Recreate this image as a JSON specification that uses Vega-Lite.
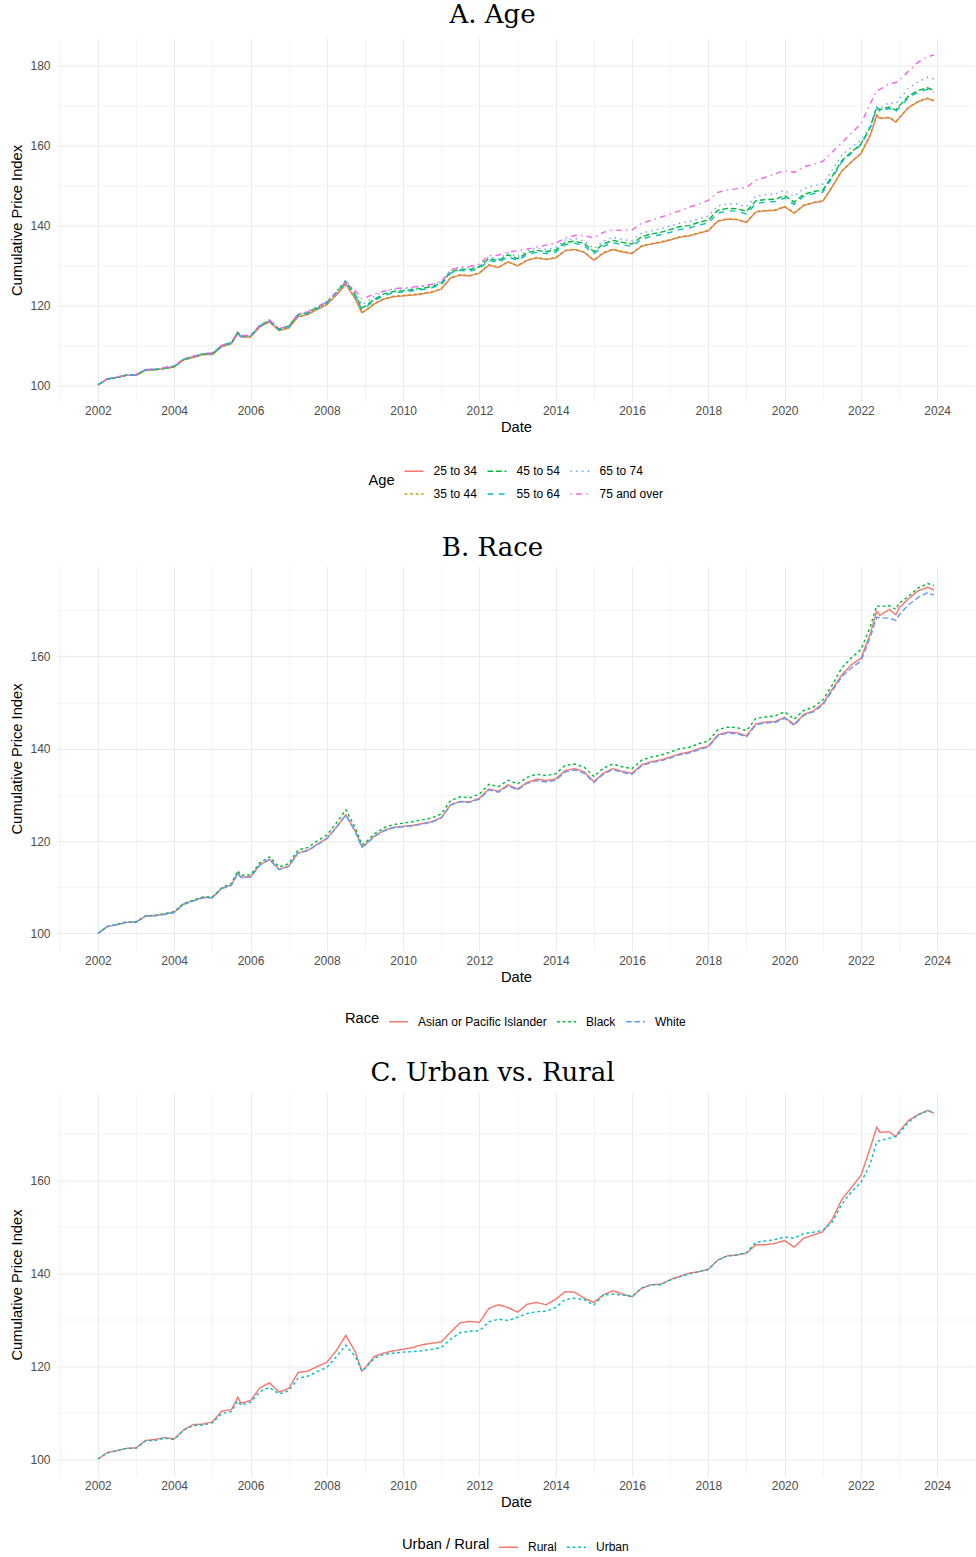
{
"$schema": "https://vega.github.io/schema/vega-lite/v6.json",
"padding": {"left": 9, "top": 1.5, "right": 0, "bottom": 0},
"spacing": 31.5,
"config": {
  "view": {"stroke": null},
  "font": "Liberation Sans",
  "axis": {"domain": false, "ticks": false, "tickSize": 0, "labelColor": "#4D4D4D", "labelFontSize": 12, "labelFont": "Liberation Sans", "titleFont": "Liberation Sans", "titleFontSize": 14.7, "titleFontWeight": "normal", "titleColor": "#000000", "gridColor": "#EBEBEB"},
  "legend": {"labelFont": "Liberation Sans", "labelFontSize": 12, "labelColor": "#000000", "titleFont": "Liberation Sans", "titleFontSize": 14.7, "titleFontWeight": "normal", "titleColor": "#000000", "symbolType": "stroke", "symbolSize": 361, "symbolStrokeWidth": 1.42, "labelOffset": 9, "columnPadding": 7, "rowPadding": 6, "titlePadding": 8, "titleOrient": "left", "titleAnchor": "middle", "titleBaseline": "middle", "direction": "horizontal", "orient": "none"},
  "title": {"font": "DejaVu Serif", "fontSize": 26, "fontWeight": "normal", "color": "#000000", "anchor": "middle", "frame": "bounds", "baseline": "alphabetic"}
},
"datasets": {
"age": [
{"t":"2002-01","g":"25 to 34","v":100.0},{"t":"2002-04","g":"25 to 34","v":101.5},{"t":"2002-07","g":"25 to 34","v":101.9},{"t":"2002-10","g":"25 to 34","v":102.4},{"t":"2003-01","g":"25 to 34","v":102.4},{"t":"2003-04","g":"25 to 34","v":103.7},{"t":"2003-07","g":"25 to 34","v":103.8},{"t":"2003-10","g":"25 to 34","v":104.1},{"t":"2004-01","g":"25 to 34","v":104.5},{"t":"2004-04","g":"25 to 34","v":106.3},{"t":"2004-07","g":"25 to 34","v":106.9},{"t":"2004-10","g":"25 to 34","v":107.6},{"t":"2005-01","g":"25 to 34","v":107.6},{"t":"2005-04","g":"25 to 34","v":109.6},{"t":"2005-07","g":"25 to 34","v":110.3},{"t":"2005-09","g":"25 to 34","v":112.9},{"t":"2005-10","g":"25 to 34","v":112.0},{"t":"2006-01","g":"25 to 34","v":112.0},{"t":"2006-04","g":"25 to 34","v":114.6},{"t":"2006-07","g":"25 to 34","v":115.8},{"t":"2006-10","g":"25 to 34","v":113.6},{"t":"2007-01","g":"25 to 34","v":114.2},{"t":"2007-04","g":"25 to 34","v":117.1},{"t":"2007-07","g":"25 to 34","v":117.6},{"t":"2007-10","g":"25 to 34","v":118.9},{"t":"2008-01","g":"25 to 34","v":120.1},{"t":"2008-04","g":"25 to 34","v":122.5},{"t":"2008-07","g":"25 to 34","v":125.2},{"t":"2008-10","g":"25 to 34","v":121.5},{"t":"2008-12","g":"25 to 34","v":118.1},{"t":"2009-01","g":"25 to 34","v":118.5},{"t":"2009-04","g":"25 to 34","v":120.3},{"t":"2009-07","g":"25 to 34","v":121.5},{"t":"2009-10","g":"25 to 34","v":122.1},{"t":"2010-01","g":"25 to 34","v":122.3},{"t":"2010-04","g":"25 to 34","v":122.5},{"t":"2010-07","g":"25 to 34","v":122.8},{"t":"2010-10","g":"25 to 34","v":123.2},{"t":"2011-01","g":"25 to 34","v":124.0},{"t":"2011-04","g":"25 to 34","v":126.8},{"t":"2011-07","g":"25 to 34","v":127.5},{"t":"2011-10","g":"25 to 34","v":127.3},{"t":"2012-01","g":"25 to 34","v":128.0},{"t":"2012-04","g":"25 to 34","v":130.0},{"t":"2012-07","g":"25 to 34","v":129.4},{"t":"2012-10","g":"25 to 34","v":130.8},{"t":"2013-01","g":"25 to 34","v":129.8},{"t":"2013-04","g":"25 to 34","v":131.2},{"t":"2013-07","g":"25 to 34","v":131.8},{"t":"2013-10","g":"25 to 34","v":131.4},{"t":"2014-01","g":"25 to 34","v":131.8},{"t":"2014-04","g":"25 to 34","v":133.6},{"t":"2014-07","g":"25 to 34","v":133.9},{"t":"2014-10","g":"25 to 34","v":133.2},{"t":"2015-01","g":"25 to 34","v":131.2},{"t":"2015-04","g":"25 to 34","v":133.0},{"t":"2015-07","g":"25 to 34","v":133.9},{"t":"2015-10","g":"25 to 34","v":133.3},{"t":"2016-01","g":"25 to 34","v":132.9},{"t":"2016-04","g":"25 to 34","v":134.7},{"t":"2016-07","g":"25 to 34","v":135.3},{"t":"2016-10","g":"25 to 34","v":135.7},{"t":"2017-01","g":"25 to 34","v":136.3},{"t":"2017-04","g":"25 to 34","v":137.0},{"t":"2017-07","g":"25 to 34","v":137.3},{"t":"2017-10","g":"25 to 34","v":138.0},{"t":"2018-01","g":"25 to 34","v":138.6},{"t":"2018-04","g":"25 to 34","v":141.0},{"t":"2018-07","g":"25 to 34","v":141.5},{"t":"2018-10","g":"25 to 34","v":141.4},{"t":"2019-01","g":"25 to 34","v":140.7},{"t":"2019-04","g":"25 to 34","v":143.3},{"t":"2019-07","g":"25 to 34","v":143.6},{"t":"2019-10","g":"25 to 34","v":143.7},{"t":"2020-01","g":"25 to 34","v":144.6},{"t":"2020-04","g":"25 to 34","v":143.0},{"t":"2020-07","g":"25 to 34","v":144.9},{"t":"2020-10","g":"25 to 34","v":145.6},{"t":"2021-01","g":"25 to 34","v":146.0},{"t":"2021-04","g":"25 to 34","v":149.6},{"t":"2021-07","g":"25 to 34","v":153.5},{"t":"2021-10","g":"25 to 34","v":155.8},{"t":"2022-01","g":"25 to 34","v":157.9},{"t":"2022-04","g":"25 to 34","v":162.5},{"t":"2022-06","g":"25 to 34","v":167.5},{"t":"2022-07","g":"25 to 34","v":166.7},{"t":"2022-10","g":"25 to 34","v":166.9},{"t":"2022-12","g":"25 to 34","v":165.8},{"t":"2023-01","g":"25 to 34","v":166.8},{"t":"2023-04","g":"25 to 34","v":169.4},{"t":"2023-07","g":"25 to 34","v":170.9},{"t":"2023-10","g":"25 to 34","v":171.7},{"t":"2023-12","g":"25 to 34","v":171.1},
{"t":"2002-01","g":"35 to 44","v":100.0},{"t":"2002-04","g":"35 to 44","v":101.5},{"t":"2002-07","g":"35 to 44","v":101.9},{"t":"2002-10","g":"35 to 44","v":102.4},{"t":"2003-01","g":"35 to 44","v":102.4},{"t":"2003-04","g":"35 to 44","v":103.7},{"t":"2003-07","g":"35 to 44","v":103.8},{"t":"2003-10","g":"35 to 44","v":104.1},{"t":"2004-01","g":"35 to 44","v":104.5},{"t":"2004-04","g":"35 to 44","v":106.3},{"t":"2004-07","g":"35 to 44","v":106.9},{"t":"2004-10","g":"35 to 44","v":107.6},{"t":"2005-01","g":"35 to 44","v":107.7},{"t":"2005-04","g":"35 to 44","v":109.7},{"t":"2005-07","g":"35 to 44","v":110.4},{"t":"2005-09","g":"35 to 44","v":113.0},{"t":"2005-10","g":"35 to 44","v":112.1},{"t":"2006-01","g":"35 to 44","v":112.1},{"t":"2006-04","g":"35 to 44","v":114.7},{"t":"2006-07","g":"35 to 44","v":115.9},{"t":"2006-10","g":"35 to 44","v":113.7},{"t":"2007-01","g":"35 to 44","v":114.3},{"t":"2007-04","g":"35 to 44","v":117.2},{"t":"2007-07","g":"35 to 44","v":117.7},{"t":"2007-10","g":"35 to 44","v":119.0},{"t":"2008-01","g":"35 to 44","v":120.2},{"t":"2008-04","g":"35 to 44","v":122.6},{"t":"2008-07","g":"35 to 44","v":125.3},{"t":"2008-10","g":"35 to 44","v":121.6},{"t":"2008-12","g":"35 to 44","v":118.2},{"t":"2009-01","g":"35 to 44","v":118.6},{"t":"2009-04","g":"35 to 44","v":120.4},{"t":"2009-07","g":"35 to 44","v":121.6},{"t":"2009-10","g":"35 to 44","v":122.2},{"t":"2010-01","g":"35 to 44","v":122.4},{"t":"2010-04","g":"35 to 44","v":122.6},{"t":"2010-07","g":"35 to 44","v":122.9},{"t":"2010-10","g":"35 to 44","v":123.3},{"t":"2011-01","g":"35 to 44","v":124.1},{"t":"2011-04","g":"35 to 44","v":126.9},{"t":"2011-07","g":"35 to 44","v":127.6},{"t":"2011-10","g":"35 to 44","v":127.4},{"t":"2012-01","g":"35 to 44","v":128.1},{"t":"2012-04","g":"35 to 44","v":130.1},{"t":"2012-07","g":"35 to 44","v":129.5},{"t":"2012-10","g":"35 to 44","v":130.9},{"t":"2013-01","g":"35 to 44","v":129.9},{"t":"2013-04","g":"35 to 44","v":131.3},{"t":"2013-07","g":"35 to 44","v":131.9},{"t":"2013-10","g":"35 to 44","v":131.5},{"t":"2014-01","g":"35 to 44","v":131.9},{"t":"2014-04","g":"35 to 44","v":133.7},{"t":"2014-07","g":"35 to 44","v":134.0},{"t":"2014-10","g":"35 to 44","v":133.3},{"t":"2015-01","g":"35 to 44","v":131.3},{"t":"2015-04","g":"35 to 44","v":133.1},{"t":"2015-07","g":"35 to 44","v":134.0},{"t":"2015-10","g":"35 to 44","v":133.4},{"t":"2016-01","g":"35 to 44","v":133.0},{"t":"2016-04","g":"35 to 44","v":134.8},{"t":"2016-07","g":"35 to 44","v":135.4},{"t":"2016-10","g":"35 to 44","v":135.8},{"t":"2017-01","g":"35 to 44","v":136.4},{"t":"2017-04","g":"35 to 44","v":137.1},{"t":"2017-07","g":"35 to 44","v":137.4},{"t":"2017-10","g":"35 to 44","v":138.1},{"t":"2018-01","g":"35 to 44","v":138.7},{"t":"2018-04","g":"35 to 44","v":141.1},{"t":"2018-07","g":"35 to 44","v":141.6},{"t":"2018-10","g":"35 to 44","v":141.5},{"t":"2019-01","g":"35 to 44","v":140.8},{"t":"2019-04","g":"35 to 44","v":143.4},{"t":"2019-07","g":"35 to 44","v":143.7},{"t":"2019-10","g":"35 to 44","v":143.8},{"t":"2020-01","g":"35 to 44","v":144.7},{"t":"2020-04","g":"35 to 44","v":143.1},{"t":"2020-07","g":"35 to 44","v":145.0},{"t":"2020-10","g":"35 to 44","v":145.7},{"t":"2021-01","g":"35 to 44","v":146.1},{"t":"2021-04","g":"35 to 44","v":149.7},{"t":"2021-07","g":"35 to 44","v":153.6},{"t":"2021-10","g":"35 to 44","v":155.9},{"t":"2022-01","g":"35 to 44","v":158.0},{"t":"2022-04","g":"35 to 44","v":162.6},{"t":"2022-06","g":"35 to 44","v":167.6},{"t":"2022-07","g":"35 to 44","v":166.8},{"t":"2022-10","g":"35 to 44","v":167.0},{"t":"2022-12","g":"35 to 44","v":165.9},{"t":"2023-01","g":"35 to 44","v":166.9},{"t":"2023-04","g":"35 to 44","v":169.5},{"t":"2023-07","g":"35 to 44","v":171.0},{"t":"2023-10","g":"35 to 44","v":171.8},{"t":"2023-12","g":"35 to 44","v":171.2},
{"t":"2002-01","g":"45 to 54","v":100.0},{"t":"2002-04","g":"45 to 54","v":101.5},{"t":"2002-07","g":"45 to 54","v":101.9},{"t":"2002-10","g":"45 to 54","v":102.5},{"t":"2003-01","g":"45 to 54","v":102.5},{"t":"2003-04","g":"45 to 54","v":103.8},{"t":"2003-07","g":"45 to 54","v":103.9},{"t":"2003-10","g":"45 to 54","v":104.3},{"t":"2004-01","g":"45 to 54","v":104.7},{"t":"2004-04","g":"45 to 54","v":106.5},{"t":"2004-07","g":"45 to 54","v":107.1},{"t":"2004-10","g":"45 to 54","v":107.8},{"t":"2005-01","g":"45 to 54","v":107.9},{"t":"2005-04","g":"45 to 54","v":109.9},{"t":"2005-07","g":"45 to 54","v":110.6},{"t":"2005-09","g":"45 to 54","v":113.2},{"t":"2005-10","g":"45 to 54","v":112.3},{"t":"2006-01","g":"45 to 54","v":112.3},{"t":"2006-04","g":"45 to 54","v":114.9},{"t":"2006-07","g":"45 to 54","v":116.1},{"t":"2006-10","g":"45 to 54","v":114.0},{"t":"2007-01","g":"45 to 54","v":114.7},{"t":"2007-04","g":"45 to 54","v":117.6},{"t":"2007-07","g":"45 to 54","v":118.1},{"t":"2007-10","g":"45 to 54","v":119.4},{"t":"2008-01","g":"45 to 54","v":120.7},{"t":"2008-04","g":"45 to 54","v":123.2},{"t":"2008-07","g":"45 to 54","v":126.0},{"t":"2008-10","g":"45 to 54","v":122.5},{"t":"2008-12","g":"45 to 54","v":119.3},{"t":"2009-01","g":"45 to 54","v":119.7},{"t":"2009-04","g":"45 to 54","v":121.5},{"t":"2009-07","g":"45 to 54","v":122.8},{"t":"2009-10","g":"45 to 54","v":123.4},{"t":"2010-01","g":"45 to 54","v":123.6},{"t":"2010-04","g":"45 to 54","v":123.9},{"t":"2010-07","g":"45 to 54","v":124.2},{"t":"2010-10","g":"45 to 54","v":124.6},{"t":"2011-01","g":"45 to 54","v":125.5},{"t":"2011-04","g":"45 to 54","v":128.3},{"t":"2011-07","g":"45 to 54","v":129.0},{"t":"2011-10","g":"45 to 54","v":128.9},{"t":"2012-01","g":"45 to 54","v":129.6},{"t":"2012-04","g":"45 to 54","v":131.7},{"t":"2012-07","g":"45 to 54","v":131.1},{"t":"2012-10","g":"45 to 54","v":132.6},{"t":"2013-01","g":"45 to 54","v":131.6},{"t":"2013-04","g":"45 to 54","v":133.1},{"t":"2013-07","g":"45 to 54","v":133.7},{"t":"2013-10","g":"45 to 54","v":133.4},{"t":"2014-01","g":"45 to 54","v":133.8},{"t":"2014-04","g":"45 to 54","v":135.7},{"t":"2014-07","g":"45 to 54","v":136.0},{"t":"2014-10","g":"45 to 54","v":135.4},{"t":"2015-01","g":"45 to 54","v":133.4},{"t":"2015-04","g":"45 to 54","v":135.3},{"t":"2015-07","g":"45 to 54","v":136.2},{"t":"2015-10","g":"45 to 54","v":135.7},{"t":"2016-01","g":"45 to 54","v":135.3},{"t":"2016-04","g":"45 to 54","v":137.1},{"t":"2016-07","g":"45 to 54","v":137.8},{"t":"2016-10","g":"45 to 54","v":138.2},{"t":"2017-01","g":"45 to 54","v":138.9},{"t":"2017-04","g":"45 to 54","v":139.6},{"t":"2017-07","g":"45 to 54","v":139.9},{"t":"2017-10","g":"45 to 54","v":140.7},{"t":"2018-01","g":"45 to 54","v":141.3},{"t":"2018-04","g":"45 to 54","v":143.7},{"t":"2018-07","g":"45 to 54","v":144.2},{"t":"2018-10","g":"45 to 54","v":144.1},{"t":"2019-01","g":"45 to 54","v":143.5},{"t":"2019-04","g":"45 to 54","v":146.1},{"t":"2019-07","g":"45 to 54","v":146.4},{"t":"2019-10","g":"45 to 54","v":146.5},{"t":"2020-01","g":"45 to 54","v":147.4},{"t":"2020-04","g":"45 to 54","v":145.8},{"t":"2020-07","g":"45 to 54","v":147.7},{"t":"2020-10","g":"45 to 54","v":148.4},{"t":"2021-01","g":"45 to 54","v":148.8},{"t":"2021-04","g":"45 to 54","v":152.3},{"t":"2021-07","g":"45 to 54","v":156.1},{"t":"2021-10","g":"45 to 54","v":158.3},{"t":"2022-01","g":"45 to 54","v":160.3},{"t":"2022-04","g":"45 to 54","v":164.6},{"t":"2022-06","g":"45 to 54","v":169.5},{"t":"2022-07","g":"45 to 54","v":168.9},{"t":"2022-10","g":"45 to 54","v":169.6},{"t":"2022-12","g":"45 to 54","v":168.8},{"t":"2023-01","g":"45 to 54","v":169.8},{"t":"2023-04","g":"45 to 54","v":172.3},{"t":"2023-07","g":"45 to 54","v":173.7},{"t":"2023-10","g":"45 to 54","v":174.4},{"t":"2023-12","g":"45 to 54","v":173.7},
{"t":"2002-01","g":"55 to 64","v":100.0},{"t":"2002-04","g":"55 to 64","v":101.5},{"t":"2002-07","g":"55 to 64","v":101.9},{"t":"2002-10","g":"55 to 64","v":102.4},{"t":"2003-01","g":"55 to 64","v":102.5},{"t":"2003-04","g":"55 to 64","v":103.8},{"t":"2003-07","g":"55 to 64","v":103.9},{"t":"2003-10","g":"55 to 64","v":104.2},{"t":"2004-01","g":"55 to 64","v":104.6},{"t":"2004-04","g":"55 to 64","v":106.4},{"t":"2004-07","g":"55 to 64","v":107.0},{"t":"2004-10","g":"55 to 64","v":107.7},{"t":"2005-01","g":"55 to 64","v":107.8},{"t":"2005-04","g":"55 to 64","v":109.8},{"t":"2005-07","g":"55 to 64","v":110.5},{"t":"2005-09","g":"55 to 64","v":113.1},{"t":"2005-10","g":"55 to 64","v":112.2},{"t":"2006-01","g":"55 to 64","v":112.2},{"t":"2006-04","g":"55 to 64","v":114.8},{"t":"2006-07","g":"55 to 64","v":116.0},{"t":"2006-10","g":"55 to 64","v":113.8},{"t":"2007-01","g":"55 to 64","v":114.5},{"t":"2007-04","g":"55 to 64","v":117.4},{"t":"2007-07","g":"55 to 64","v":117.9},{"t":"2007-10","g":"55 to 64","v":119.2},{"t":"2008-01","g":"55 to 64","v":120.5},{"t":"2008-04","g":"55 to 64","v":123.0},{"t":"2008-07","g":"55 to 64","v":125.8},{"t":"2008-10","g":"55 to 64","v":122.2},{"t":"2008-12","g":"55 to 64","v":118.9},{"t":"2009-01","g":"55 to 64","v":119.3},{"t":"2009-04","g":"55 to 64","v":121.2},{"t":"2009-07","g":"55 to 64","v":122.4},{"t":"2009-10","g":"55 to 64","v":123.1},{"t":"2010-01","g":"55 to 64","v":123.3},{"t":"2010-04","g":"55 to 64","v":123.6},{"t":"2010-07","g":"55 to 64","v":123.9},{"t":"2010-10","g":"55 to 64","v":124.3},{"t":"2011-01","g":"55 to 64","v":125.1},{"t":"2011-04","g":"55 to 64","v":128.0},{"t":"2011-07","g":"55 to 64","v":128.7},{"t":"2011-10","g":"55 to 64","v":128.5},{"t":"2012-01","g":"55 to 64","v":129.2},{"t":"2012-04","g":"55 to 64","v":131.2},{"t":"2012-07","g":"55 to 64","v":130.7},{"t":"2012-10","g":"55 to 64","v":132.1},{"t":"2013-01","g":"55 to 64","v":131.2},{"t":"2013-04","g":"55 to 64","v":132.6},{"t":"2013-07","g":"55 to 64","v":133.2},{"t":"2013-10","g":"55 to 64","v":132.9},{"t":"2014-01","g":"55 to 64","v":133.3},{"t":"2014-04","g":"55 to 64","v":135.1},{"t":"2014-07","g":"55 to 64","v":135.5},{"t":"2014-10","g":"55 to 64","v":134.8},{"t":"2015-01","g":"55 to 64","v":132.9},{"t":"2015-04","g":"55 to 64","v":134.7},{"t":"2015-07","g":"55 to 64","v":135.6},{"t":"2015-10","g":"55 to 64","v":135.1},{"t":"2016-01","g":"55 to 64","v":134.7},{"t":"2016-04","g":"55 to 64","v":136.5},{"t":"2016-07","g":"55 to 64","v":137.2},{"t":"2016-10","g":"55 to 64","v":137.6},{"t":"2017-01","g":"55 to 64","v":138.2},{"t":"2017-04","g":"55 to 64","v":138.9},{"t":"2017-07","g":"55 to 64","v":139.3},{"t":"2017-10","g":"55 to 64","v":140.0},{"t":"2018-01","g":"55 to 64","v":140.6},{"t":"2018-04","g":"55 to 64","v":143.0},{"t":"2018-07","g":"55 to 64","v":143.6},{"t":"2018-10","g":"55 to 64","v":143.5},{"t":"2019-01","g":"55 to 64","v":142.8},{"t":"2019-04","g":"55 to 64","v":145.4},{"t":"2019-07","g":"55 to 64","v":145.8},{"t":"2019-10","g":"55 to 64","v":145.9},{"t":"2020-01","g":"55 to 64","v":146.8},{"t":"2020-04","g":"55 to 64","v":145.2},{"t":"2020-07","g":"55 to 64","v":147.2},{"t":"2020-10","g":"55 to 64","v":147.9},{"t":"2021-01","g":"55 to 64","v":148.3},{"t":"2021-04","g":"55 to 64","v":151.9},{"t":"2021-07","g":"55 to 64","v":155.8},{"t":"2021-10","g":"55 to 64","v":158.0},{"t":"2022-01","g":"55 to 64","v":160.1},{"t":"2022-04","g":"55 to 64","v":164.5},{"t":"2022-06","g":"55 to 64","v":169.4},{"t":"2022-07","g":"55 to 64","v":168.6},{"t":"2022-10","g":"55 to 64","v":169.2},{"t":"2022-12","g":"55 to 64","v":168.4},{"t":"2023-01","g":"55 to 64","v":169.4},{"t":"2023-04","g":"55 to 64","v":171.9},{"t":"2023-07","g":"55 to 64","v":173.3},{"t":"2023-10","g":"55 to 64","v":174.0},{"t":"2023-12","g":"55 to 64","v":173.3},
{"t":"2002-01","g":"65 to 74","v":100.0},{"t":"2002-04","g":"65 to 74","v":101.5},{"t":"2002-07","g":"65 to 74","v":102.0},{"t":"2002-10","g":"65 to 74","v":102.5},{"t":"2003-01","g":"65 to 74","v":102.5},{"t":"2003-04","g":"65 to 74","v":103.8},{"t":"2003-07","g":"65 to 74","v":104.0},{"t":"2003-10","g":"65 to 74","v":104.3},{"t":"2004-01","g":"65 to 74","v":104.7},{"t":"2004-04","g":"65 to 74","v":106.5},{"t":"2004-07","g":"65 to 74","v":107.2},{"t":"2004-10","g":"65 to 74","v":107.9},{"t":"2005-01","g":"65 to 74","v":107.9},{"t":"2005-04","g":"65 to 74","v":109.9},{"t":"2005-07","g":"65 to 74","v":110.6},{"t":"2005-09","g":"65 to 74","v":113.2},{"t":"2005-10","g":"65 to 74","v":112.3},{"t":"2006-01","g":"65 to 74","v":112.4},{"t":"2006-04","g":"65 to 74","v":115.0},{"t":"2006-07","g":"65 to 74","v":116.2},{"t":"2006-10","g":"65 to 74","v":114.1},{"t":"2007-01","g":"65 to 74","v":114.8},{"t":"2007-04","g":"65 to 74","v":117.7},{"t":"2007-07","g":"65 to 74","v":118.3},{"t":"2007-10","g":"65 to 74","v":119.6},{"t":"2008-01","g":"65 to 74","v":120.9},{"t":"2008-04","g":"65 to 74","v":123.5},{"t":"2008-07","g":"65 to 74","v":126.3},{"t":"2008-10","g":"65 to 74","v":123.1},{"t":"2008-12","g":"65 to 74","v":120.1},{"t":"2009-01","g":"65 to 74","v":120.5},{"t":"2009-04","g":"65 to 74","v":122.2},{"t":"2009-07","g":"65 to 74","v":123.4},{"t":"2009-10","g":"65 to 74","v":124.0},{"t":"2010-01","g":"65 to 74","v":124.1},{"t":"2010-04","g":"65 to 74","v":124.3},{"t":"2010-07","g":"65 to 74","v":124.7},{"t":"2010-10","g":"65 to 74","v":125.1},{"t":"2011-01","g":"65 to 74","v":125.9},{"t":"2011-04","g":"65 to 74","v":128.7},{"t":"2011-07","g":"65 to 74","v":129.5},{"t":"2011-10","g":"65 to 74","v":129.3},{"t":"2012-01","g":"65 to 74","v":130.0},{"t":"2012-04","g":"65 to 74","v":132.1},{"t":"2012-07","g":"65 to 74","v":131.5},{"t":"2012-10","g":"65 to 74","v":133.0},{"t":"2013-01","g":"65 to 74","v":132.1},{"t":"2013-04","g":"65 to 74","v":133.6},{"t":"2013-07","g":"65 to 74","v":134.3},{"t":"2013-10","g":"65 to 74","v":133.9},{"t":"2014-01","g":"65 to 74","v":134.4},{"t":"2014-04","g":"65 to 74","v":136.3},{"t":"2014-07","g":"65 to 74","v":136.7},{"t":"2014-10","g":"65 to 74","v":136.0},{"t":"2015-01","g":"65 to 74","v":134.1},{"t":"2015-04","g":"65 to 74","v":136.0},{"t":"2015-07","g":"65 to 74","v":137.0},{"t":"2015-10","g":"65 to 74","v":136.4},{"t":"2016-01","g":"65 to 74","v":136.1},{"t":"2016-04","g":"65 to 74","v":138.0},{"t":"2016-07","g":"65 to 74","v":138.6},{"t":"2016-10","g":"65 to 74","v":139.1},{"t":"2017-01","g":"65 to 74","v":139.8},{"t":"2017-04","g":"65 to 74","v":140.5},{"t":"2017-07","g":"65 to 74","v":140.9},{"t":"2017-10","g":"65 to 74","v":141.6},{"t":"2018-01","g":"65 to 74","v":142.3},{"t":"2018-04","g":"65 to 74","v":144.8},{"t":"2018-07","g":"65 to 74","v":145.3},{"t":"2018-10","g":"65 to 74","v":145.3},{"t":"2019-01","g":"65 to 74","v":144.6},{"t":"2019-04","g":"65 to 74","v":147.3},{"t":"2019-07","g":"65 to 74","v":147.6},{"t":"2019-10","g":"65 to 74","v":147.8},{"t":"2020-01","g":"65 to 74","v":148.7},{"t":"2020-04","g":"65 to 74","v":147.2},{"t":"2020-07","g":"65 to 74","v":149.1},{"t":"2020-10","g":"65 to 74","v":149.9},{"t":"2021-01","g":"65 to 74","v":150.3},{"t":"2021-04","g":"65 to 74","v":153.8},{"t":"2021-07","g":"65 to 74","v":157.5},{"t":"2021-10","g":"65 to 74","v":159.5},{"t":"2022-01","g":"65 to 74","v":161.2},{"t":"2022-04","g":"65 to 74","v":164.9},{"t":"2022-06","g":"65 to 74","v":169.6},{"t":"2022-07","g":"65 to 74","v":169.2},{"t":"2022-10","g":"65 to 74","v":170.7},{"t":"2022-12","g":"65 to 74","v":170.4},{"t":"2023-01","g":"65 to 74","v":171.5},{"t":"2023-04","g":"65 to 74","v":174.3},{"t":"2023-07","g":"65 to 74","v":175.9},{"t":"2023-10","g":"65 to 74","v":177.0},{"t":"2023-12","g":"65 to 74","v":176.6},
{"t":"2002-01","g":"75 and over","v":100.0},{"t":"2002-04","g":"75 and over","v":101.6},{"t":"2002-07","g":"75 and over","v":102.0},{"t":"2002-10","g":"75 and over","v":102.5},{"t":"2003-01","g":"75 and over","v":102.6},{"t":"2003-04","g":"75 and over","v":103.9},{"t":"2003-07","g":"75 and over","v":104.0},{"t":"2003-10","g":"75 and over","v":104.4},{"t":"2004-01","g":"75 and over","v":104.8},{"t":"2004-04","g":"75 and over","v":106.6},{"t":"2004-07","g":"75 and over","v":107.2},{"t":"2004-10","g":"75 and over","v":107.9},{"t":"2005-01","g":"75 and over","v":108.0},{"t":"2005-04","g":"75 and over","v":110.0},{"t":"2005-07","g":"75 and over","v":110.7},{"t":"2005-09","g":"75 and over","v":113.3},{"t":"2005-10","g":"75 and over","v":112.4},{"t":"2006-01","g":"75 and over","v":112.4},{"t":"2006-04","g":"75 and over","v":115.0},{"t":"2006-07","g":"75 and over","v":116.3},{"t":"2006-10","g":"75 and over","v":114.1},{"t":"2007-01","g":"75 and over","v":114.8},{"t":"2007-04","g":"75 and over","v":117.8},{"t":"2007-07","g":"75 and over","v":118.3},{"t":"2007-10","g":"75 and over","v":119.6},{"t":"2008-01","g":"75 and over","v":120.8},{"t":"2008-04","g":"75 and over","v":123.1},{"t":"2008-07","g":"75 and over","v":125.7},{"t":"2008-10","g":"75 and over","v":123.5},{"t":"2008-12","g":"75 and over","v":121.6},{"t":"2009-01","g":"75 and over","v":121.8},{"t":"2009-04","g":"75 and over","v":122.8},{"t":"2009-07","g":"75 and over","v":123.5},{"t":"2009-10","g":"75 and over","v":124.1},{"t":"2010-01","g":"75 and over","v":124.3},{"t":"2010-04","g":"75 and over","v":124.5},{"t":"2010-07","g":"75 and over","v":124.8},{"t":"2010-10","g":"75 and over","v":125.2},{"t":"2011-01","g":"75 and over","v":125.8},{"t":"2011-04","g":"75 and over","v":128.9},{"t":"2011-07","g":"75 and over","v":129.4},{"t":"2011-10","g":"75 and over","v":129.7},{"t":"2012-01","g":"75 and over","v":130.3},{"t":"2012-04","g":"75 and over","v":132.4},{"t":"2012-07","g":"75 and over","v":132.5},{"t":"2012-10","g":"75 and over","v":133.3},{"t":"2013-01","g":"75 and over","v":133.6},{"t":"2013-04","g":"75 and over","v":134.0},{"t":"2013-07","g":"75 and over","v":134.5},{"t":"2013-10","g":"75 and over","v":135.0},{"t":"2014-01","g":"75 and over","v":135.5},{"t":"2014-04","g":"75 and over","v":136.8},{"t":"2014-07","g":"75 and over","v":137.4},{"t":"2014-10","g":"75 and over","v":137.4},{"t":"2015-01","g":"75 and over","v":136.8},{"t":"2015-04","g":"75 and over","v":138.2},{"t":"2015-07","g":"75 and over","v":138.8},{"t":"2015-10","g":"75 and over","v":138.7},{"t":"2016-01","g":"75 and over","v":138.8},{"t":"2016-04","g":"75 and over","v":140.5},{"t":"2016-07","g":"75 and over","v":141.2},{"t":"2016-10","g":"75 and over","v":142.0},{"t":"2017-01","g":"75 and over","v":142.8},{"t":"2017-04","g":"75 and over","v":143.6},{"t":"2017-07","g":"75 and over","v":144.5},{"t":"2017-10","g":"75 and over","v":145.3},{"t":"2018-01","g":"75 and over","v":146.2},{"t":"2018-04","g":"75 and over","v":148.2},{"t":"2018-07","g":"75 and over","v":148.8},{"t":"2018-10","g":"75 and over","v":149.1},{"t":"2019-01","g":"75 and over","v":149.5},{"t":"2019-04","g":"75 and over","v":151.2},{"t":"2019-07","g":"75 and over","v":152.0},{"t":"2019-10","g":"75 and over","v":152.8},{"t":"2020-01","g":"75 and over","v":153.7},{"t":"2020-04","g":"75 and over","v":153.2},{"t":"2020-07","g":"75 and over","v":154.6},{"t":"2020-10","g":"75 and over","v":155.2},{"t":"2021-01","g":"75 and over","v":156.0},{"t":"2021-04","g":"75 and over","v":158.3},{"t":"2021-07","g":"75 and over","v":160.6},{"t":"2021-10","g":"75 and over","v":163.0},{"t":"2022-01","g":"75 and over","v":165.4},{"t":"2022-04","g":"75 and over","v":170.5},{"t":"2022-06","g":"75 and over","v":173.6},{"t":"2022-07","g":"75 and over","v":174.0},{"t":"2022-10","g":"75 and over","v":175.4},{"t":"2022-12","g":"75 and over","v":175.7},{"t":"2023-01","g":"75 and over","v":176.3},{"t":"2023-04","g":"75 and over","v":178.5},{"t":"2023-07","g":"75 and over","v":180.8},{"t":"2023-10","g":"75 and over","v":182.2},{"t":"2023-12","g":"75 and over","v":182.6}
],
"race": [
{"t":"2002-01","g":"Asian or Pacific Islander","v":100.0},{"t":"2002-04","g":"Asian or Pacific Islander","v":101.5},{"t":"2002-07","g":"Asian or Pacific Islander","v":101.9},{"t":"2002-10","g":"Asian or Pacific Islander","v":102.4},{"t":"2003-01","g":"Asian or Pacific Islander","v":102.5},{"t":"2003-04","g":"Asian or Pacific Islander","v":103.8},{"t":"2003-07","g":"Asian or Pacific Islander","v":103.9},{"t":"2003-10","g":"Asian or Pacific Islander","v":104.2},{"t":"2004-01","g":"Asian or Pacific Islander","v":104.6},{"t":"2004-04","g":"Asian or Pacific Islander","v":106.4},{"t":"2004-07","g":"Asian or Pacific Islander","v":107.1},{"t":"2004-10","g":"Asian or Pacific Islander","v":107.8},{"t":"2005-01","g":"Asian or Pacific Islander","v":107.8},{"t":"2005-04","g":"Asian or Pacific Islander","v":109.8},{"t":"2005-07","g":"Asian or Pacific Islander","v":110.5},{"t":"2005-09","g":"Asian or Pacific Islander","v":113.1},{"t":"2005-10","g":"Asian or Pacific Islander","v":112.2},{"t":"2006-01","g":"Asian or Pacific Islander","v":112.3},{"t":"2006-04","g":"Asian or Pacific Islander","v":114.9},{"t":"2006-07","g":"Asian or Pacific Islander","v":116.1},{"t":"2006-10","g":"Asian or Pacific Islander","v":113.9},{"t":"2007-01","g":"Asian or Pacific Islander","v":114.6},{"t":"2007-04","g":"Asian or Pacific Islander","v":117.5},{"t":"2007-07","g":"Asian or Pacific Islander","v":118.0},{"t":"2007-10","g":"Asian or Pacific Islander","v":119.3},{"t":"2008-01","g":"Asian or Pacific Islander","v":120.6},{"t":"2008-04","g":"Asian or Pacific Islander","v":123.0},{"t":"2008-07","g":"Asian or Pacific Islander","v":125.7},{"t":"2008-10","g":"Asian or Pacific Islander","v":122.1},{"t":"2008-12","g":"Asian or Pacific Islander","v":118.8},{"t":"2009-01","g":"Asian or Pacific Islander","v":119.2},{"t":"2009-04","g":"Asian or Pacific Islander","v":121.1},{"t":"2009-07","g":"Asian or Pacific Islander","v":122.3},{"t":"2009-10","g":"Asian or Pacific Islander","v":123.0},{"t":"2010-01","g":"Asian or Pacific Islander","v":123.2},{"t":"2010-04","g":"Asian or Pacific Islander","v":123.4},{"t":"2010-07","g":"Asian or Pacific Islander","v":123.8},{"t":"2010-10","g":"Asian or Pacific Islander","v":124.2},{"t":"2011-01","g":"Asian or Pacific Islander","v":125.1},{"t":"2011-04","g":"Asian or Pacific Islander","v":127.9},{"t":"2011-07","g":"Asian or Pacific Islander","v":128.6},{"t":"2011-10","g":"Asian or Pacific Islander","v":128.5},{"t":"2012-01","g":"Asian or Pacific Islander","v":129.3},{"t":"2012-04","g":"Asian or Pacific Islander","v":131.3},{"t":"2012-07","g":"Asian or Pacific Islander","v":130.8},{"t":"2012-10","g":"Asian or Pacific Islander","v":132.2},{"t":"2013-01","g":"Asian or Pacific Islander","v":131.3},{"t":"2013-04","g":"Asian or Pacific Islander","v":132.7},{"t":"2013-07","g":"Asian or Pacific Islander","v":133.4},{"t":"2013-10","g":"Asian or Pacific Islander","v":133.1},{"t":"2014-01","g":"Asian or Pacific Islander","v":133.5},{"t":"2014-04","g":"Asian or Pacific Islander","v":135.3},{"t":"2014-07","g":"Asian or Pacific Islander","v":135.7},{"t":"2014-10","g":"Asian or Pacific Islander","v":135.0},{"t":"2015-01","g":"Asian or Pacific Islander","v":132.9},{"t":"2015-04","g":"Asian or Pacific Islander","v":134.7},{"t":"2015-07","g":"Asian or Pacific Islander","v":135.7},{"t":"2015-10","g":"Asian or Pacific Islander","v":135.1},{"t":"2016-01","g":"Asian or Pacific Islander","v":134.7},{"t":"2016-04","g":"Asian or Pacific Islander","v":136.5},{"t":"2016-07","g":"Asian or Pacific Islander","v":137.2},{"t":"2016-10","g":"Asian or Pacific Islander","v":137.6},{"t":"2017-01","g":"Asian or Pacific Islander","v":138.2},{"t":"2017-04","g":"Asian or Pacific Islander","v":138.9},{"t":"2017-07","g":"Asian or Pacific Islander","v":139.3},{"t":"2017-10","g":"Asian or Pacific Islander","v":140.0},{"t":"2018-01","g":"Asian or Pacific Islander","v":140.6},{"t":"2018-04","g":"Asian or Pacific Islander","v":143.0},{"t":"2018-07","g":"Asian or Pacific Islander","v":143.6},{"t":"2018-10","g":"Asian or Pacific Islander","v":143.5},{"t":"2019-01","g":"Asian or Pacific Islander","v":142.8},{"t":"2019-04","g":"Asian or Pacific Islander","v":145.4},{"t":"2019-07","g":"Asian or Pacific Islander","v":145.8},{"t":"2019-10","g":"Asian or Pacific Islander","v":145.9},{"t":"2020-01","g":"Asian or Pacific Islander","v":146.8},{"t":"2020-04","g":"Asian or Pacific Islander","v":145.3},{"t":"2020-07","g":"Asian or Pacific Islander","v":147.4},{"t":"2020-10","g":"Asian or Pacific Islander","v":148.2},{"t":"2021-01","g":"Asian or Pacific Islander","v":149.8},{"t":"2021-04","g":"Asian or Pacific Islander","v":152.9},{"t":"2021-07","g":"Asian or Pacific Islander","v":156.0},{"t":"2021-10","g":"Asian or Pacific Islander","v":158.2},{"t":"2022-01","g":"Asian or Pacific Islander","v":159.6},{"t":"2022-04","g":"Asian or Pacific Islander","v":165.0},{"t":"2022-06","g":"Asian or Pacific Islander","v":169.8},{"t":"2022-07","g":"Asian or Pacific Islander","v":168.9},{"t":"2022-10","g":"Asian or Pacific Islander","v":170.2},{"t":"2022-12","g":"Asian or Pacific Islander","v":169.0},{"t":"2023-01","g":"Asian or Pacific Islander","v":170.5},{"t":"2023-04","g":"Asian or Pacific Islander","v":172.5},{"t":"2023-07","g":"Asian or Pacific Islander","v":174.2},{"t":"2023-10","g":"Asian or Pacific Islander","v":175.0},{"t":"2023-12","g":"Asian or Pacific Islander","v":174.4},
{"t":"2002-01","g":"Black","v":100.0},{"t":"2002-04","g":"Black","v":101.5},{"t":"2002-07","g":"Black","v":102.0},{"t":"2002-10","g":"Black","v":102.5},{"t":"2003-01","g":"Black","v":102.5},{"t":"2003-04","g":"Black","v":103.8},{"t":"2003-07","g":"Black","v":103.9},{"t":"2003-10","g":"Black","v":104.3},{"t":"2004-01","g":"Black","v":104.7},{"t":"2004-04","g":"Black","v":106.5},{"t":"2004-07","g":"Black","v":107.2},{"t":"2004-10","g":"Black","v":107.9},{"t":"2005-01","g":"Black","v":107.9},{"t":"2005-04","g":"Black","v":109.9},{"t":"2005-07","g":"Black","v":110.8},{"t":"2005-09","g":"Black","v":113.6},{"t":"2005-10","g":"Black","v":112.6},{"t":"2006-01","g":"Black","v":112.7},{"t":"2006-04","g":"Black","v":115.3},{"t":"2006-07","g":"Black","v":116.6},{"t":"2006-10","g":"Black","v":114.4},{"t":"2007-01","g":"Black","v":115.1},{"t":"2007-04","g":"Black","v":118.1},{"t":"2007-07","g":"Black","v":118.6},{"t":"2007-10","g":"Black","v":120.0},{"t":"2008-01","g":"Black","v":121.3},{"t":"2008-04","g":"Black","v":123.9},{"t":"2008-07","g":"Black","v":126.8},{"t":"2008-10","g":"Black","v":122.8},{"t":"2008-12","g":"Black","v":119.2},{"t":"2009-01","g":"Black","v":119.6},{"t":"2009-04","g":"Black","v":121.6},{"t":"2009-07","g":"Black","v":122.9},{"t":"2009-10","g":"Black","v":123.6},{"t":"2010-01","g":"Black","v":123.9},{"t":"2010-04","g":"Black","v":124.2},{"t":"2010-07","g":"Black","v":124.6},{"t":"2010-10","g":"Black","v":125.0},{"t":"2011-01","g":"Black","v":125.9},{"t":"2011-04","g":"Black","v":128.8},{"t":"2011-07","g":"Black","v":129.6},{"t":"2011-10","g":"Black","v":129.4},{"t":"2012-01","g":"Black","v":130.2},{"t":"2012-04","g":"Black","v":132.3},{"t":"2012-07","g":"Black","v":131.8},{"t":"2012-10","g":"Black","v":133.2},{"t":"2013-01","g":"Black","v":132.4},{"t":"2013-04","g":"Black","v":133.8},{"t":"2013-07","g":"Black","v":134.5},{"t":"2013-10","g":"Black","v":134.2},{"t":"2014-01","g":"Black","v":134.6},{"t":"2014-04","g":"Black","v":136.4},{"t":"2014-07","g":"Black","v":136.7},{"t":"2014-10","g":"Black","v":136.0},{"t":"2015-01","g":"Black","v":134.0},{"t":"2015-04","g":"Black","v":135.8},{"t":"2015-07","g":"Black","v":136.7},{"t":"2015-10","g":"Black","v":136.1},{"t":"2016-01","g":"Black","v":135.7},{"t":"2016-04","g":"Black","v":137.5},{"t":"2016-07","g":"Black","v":138.2},{"t":"2016-10","g":"Black","v":138.6},{"t":"2017-01","g":"Black","v":139.3},{"t":"2017-04","g":"Black","v":140.0},{"t":"2017-07","g":"Black","v":140.3},{"t":"2017-10","g":"Black","v":141.1},{"t":"2018-01","g":"Black","v":141.7},{"t":"2018-04","g":"Black","v":144.1},{"t":"2018-07","g":"Black","v":144.7},{"t":"2018-10","g":"Black","v":144.6},{"t":"2019-01","g":"Black","v":143.9},{"t":"2019-04","g":"Black","v":146.6},{"t":"2019-07","g":"Black","v":146.9},{"t":"2019-10","g":"Black","v":147.1},{"t":"2020-01","g":"Black","v":148.0},{"t":"2020-04","g":"Black","v":146.4},{"t":"2020-07","g":"Black","v":148.3},{"t":"2020-10","g":"Black","v":149.0},{"t":"2021-01","g":"Black","v":150.6},{"t":"2021-04","g":"Black","v":153.8},{"t":"2021-07","g":"Black","v":157.5},{"t":"2021-10","g":"Black","v":159.7},{"t":"2022-01","g":"Black","v":161.5},{"t":"2022-04","g":"Black","v":166.5},{"t":"2022-06","g":"Black","v":171.0},{"t":"2022-07","g":"Black","v":170.8},{"t":"2022-10","g":"Black","v":171.0},{"t":"2022-12","g":"Black","v":170.2},{"t":"2023-01","g":"Black","v":171.5},{"t":"2023-04","g":"Black","v":173.0},{"t":"2023-07","g":"Black","v":174.8},{"t":"2023-10","g":"Black","v":175.8},{"t":"2023-12","g":"Black","v":175.4},
{"t":"2002-01","g":"White","v":100.0},{"t":"2002-04","g":"White","v":101.5},{"t":"2002-07","g":"White","v":101.9},{"t":"2002-10","g":"White","v":102.4},{"t":"2003-01","g":"White","v":102.4},{"t":"2003-04","g":"White","v":103.7},{"t":"2003-07","g":"White","v":103.8},{"t":"2003-10","g":"White","v":104.1},{"t":"2004-01","g":"White","v":104.5},{"t":"2004-04","g":"White","v":106.3},{"t":"2004-07","g":"White","v":107.0},{"t":"2004-10","g":"White","v":107.7},{"t":"2005-01","g":"White","v":107.7},{"t":"2005-04","g":"White","v":109.7},{"t":"2005-07","g":"White","v":110.4},{"t":"2005-09","g":"White","v":113.0},{"t":"2005-10","g":"White","v":112.1},{"t":"2006-01","g":"White","v":112.2},{"t":"2006-04","g":"White","v":114.8},{"t":"2006-07","g":"White","v":116.0},{"t":"2006-10","g":"White","v":113.8},{"t":"2007-01","g":"White","v":114.5},{"t":"2007-04","g":"White","v":117.4},{"t":"2007-07","g":"White","v":117.9},{"t":"2007-10","g":"White","v":119.2},{"t":"2008-01","g":"White","v":120.5},{"t":"2008-04","g":"White","v":122.9},{"t":"2008-07","g":"White","v":125.6},{"t":"2008-10","g":"White","v":122.0},{"t":"2008-12","g":"White","v":118.7},{"t":"2009-01","g":"White","v":119.1},{"t":"2009-04","g":"White","v":121.0},{"t":"2009-07","g":"White","v":122.2},{"t":"2009-10","g":"White","v":122.9},{"t":"2010-01","g":"White","v":123.1},{"t":"2010-04","g":"White","v":123.3},{"t":"2010-07","g":"White","v":123.7},{"t":"2010-10","g":"White","v":124.1},{"t":"2011-01","g":"White","v":125.0},{"t":"2011-04","g":"White","v":127.8},{"t":"2011-07","g":"White","v":128.5},{"t":"2011-10","g":"White","v":128.4},{"t":"2012-01","g":"White","v":129.1},{"t":"2012-04","g":"White","v":131.1},{"t":"2012-07","g":"White","v":130.6},{"t":"2012-10","g":"White","v":132.0},{"t":"2013-01","g":"White","v":131.1},{"t":"2013-04","g":"White","v":132.5},{"t":"2013-07","g":"White","v":133.1},{"t":"2013-10","g":"White","v":132.8},{"t":"2014-01","g":"White","v":133.2},{"t":"2014-04","g":"White","v":135.0},{"t":"2014-07","g":"White","v":135.4},{"t":"2014-10","g":"White","v":134.7},{"t":"2015-01","g":"White","v":132.7},{"t":"2015-04","g":"White","v":134.5},{"t":"2015-07","g":"White","v":135.5},{"t":"2015-10","g":"White","v":134.9},{"t":"2016-01","g":"White","v":134.5},{"t":"2016-04","g":"White","v":136.3},{"t":"2016-07","g":"White","v":137.0},{"t":"2016-10","g":"White","v":137.4},{"t":"2017-01","g":"White","v":138.0},{"t":"2017-04","g":"White","v":138.7},{"t":"2017-07","g":"White","v":139.1},{"t":"2017-10","g":"White","v":139.8},{"t":"2018-01","g":"White","v":140.4},{"t":"2018-04","g":"White","v":142.8},{"t":"2018-07","g":"White","v":143.4},{"t":"2018-10","g":"White","v":143.3},{"t":"2019-01","g":"White","v":142.6},{"t":"2019-04","g":"White","v":145.2},{"t":"2019-07","g":"White","v":145.6},{"t":"2019-10","g":"White","v":145.7},{"t":"2020-01","g":"White","v":146.6},{"t":"2020-04","g":"White","v":145.1},{"t":"2020-07","g":"White","v":147.2},{"t":"2020-10","g":"White","v":148.0},{"t":"2021-01","g":"White","v":149.5},{"t":"2021-04","g":"White","v":152.5},{"t":"2021-07","g":"White","v":155.6},{"t":"2021-10","g":"White","v":157.5},{"t":"2022-01","g":"White","v":159.0},{"t":"2022-04","g":"White","v":164.2},{"t":"2022-06","g":"White","v":168.5},{"t":"2022-07","g":"White","v":168.4},{"t":"2022-10","g":"White","v":168.3},{"t":"2022-12","g":"White","v":167.8},{"t":"2023-01","g":"White","v":169.0},{"t":"2023-04","g":"White","v":171.2},{"t":"2023-07","g":"White","v":172.8},{"t":"2023-10","g":"White","v":173.8},{"t":"2023-12","g":"White","v":173.3}
],
"ur": [
{"t":"2002-01","g":"Rural","v":100.0},{"t":"2002-04","g":"Rural","v":101.4},{"t":"2002-07","g":"Rural","v":101.8},{"t":"2002-10","g":"Rural","v":102.3},{"t":"2003-01","g":"Rural","v":102.4},{"t":"2003-04","g":"Rural","v":104.0},{"t":"2003-07","g":"Rural","v":104.2},{"t":"2003-10","g":"Rural","v":104.6},{"t":"2004-01","g":"Rural","v":104.3},{"t":"2004-04","g":"Rural","v":106.3},{"t":"2004-07","g":"Rural","v":107.4},{"t":"2004-10","g":"Rural","v":107.5},{"t":"2005-01","g":"Rural","v":108.0},{"t":"2005-04","g":"Rural","v":110.3},{"t":"2005-07","g":"Rural","v":110.6},{"t":"2005-09","g":"Rural","v":113.3},{"t":"2005-10","g":"Rural","v":112.0},{"t":"2006-01","g":"Rural","v":112.6},{"t":"2006-04","g":"Rural","v":115.3},{"t":"2006-07","g":"Rural","v":116.4},{"t":"2006-10","g":"Rural","v":114.4},{"t":"2007-01","g":"Rural","v":115.2},{"t":"2007-04","g":"Rural","v":118.6},{"t":"2007-07","g":"Rural","v":118.9},{"t":"2007-10","g":"Rural","v":119.9},{"t":"2008-01","g":"Rural","v":120.8},{"t":"2008-04","g":"Rural","v":123.3},{"t":"2008-07","g":"Rural","v":126.6},{"t":"2008-10","g":"Rural","v":123.0},{"t":"2008-12","g":"Rural","v":118.9},{"t":"2009-01","g":"Rural","v":119.6},{"t":"2009-04","g":"Rural","v":122.1},{"t":"2009-07","g":"Rural","v":122.8},{"t":"2009-10","g":"Rural","v":123.3},{"t":"2010-01","g":"Rural","v":123.6},{"t":"2010-04","g":"Rural","v":124.0},{"t":"2010-07","g":"Rural","v":124.6},{"t":"2010-10","g":"Rural","v":124.9},{"t":"2011-01","g":"Rural","v":125.2},{"t":"2011-04","g":"Rural","v":127.3},{"t":"2011-07","g":"Rural","v":129.3},{"t":"2011-10","g":"Rural","v":129.6},{"t":"2012-01","g":"Rural","v":129.4},{"t":"2012-04","g":"Rural","v":132.4},{"t":"2012-07","g":"Rural","v":133.2},{"t":"2012-10","g":"Rural","v":132.6},{"t":"2013-01","g":"Rural","v":131.6},{"t":"2013-04","g":"Rural","v":133.3},{"t":"2013-07","g":"Rural","v":133.7},{"t":"2013-10","g":"Rural","v":133.2},{"t":"2014-01","g":"Rural","v":134.4},{"t":"2014-04","g":"Rural","v":136.0},{"t":"2014-07","g":"Rural","v":135.9},{"t":"2014-10","g":"Rural","v":134.6},{"t":"2015-01","g":"Rural","v":133.7},{"t":"2015-04","g":"Rural","v":135.3},{"t":"2015-07","g":"Rural","v":136.2},{"t":"2015-10","g":"Rural","v":135.5},{"t":"2016-01","g":"Rural","v":134.9},{"t":"2016-04","g":"Rural","v":136.7},{"t":"2016-07","g":"Rural","v":137.5},{"t":"2016-10","g":"Rural","v":137.6},{"t":"2017-01","g":"Rural","v":138.6},{"t":"2017-04","g":"Rural","v":139.3},{"t":"2017-07","g":"Rural","v":140.0},{"t":"2017-10","g":"Rural","v":140.3},{"t":"2018-01","g":"Rural","v":140.8},{"t":"2018-04","g":"Rural","v":142.8},{"t":"2018-07","g":"Rural","v":143.7},{"t":"2018-10","g":"Rural","v":143.9},{"t":"2019-01","g":"Rural","v":144.3},{"t":"2019-04","g":"Rural","v":146.1},{"t":"2019-07","g":"Rural","v":146.1},{"t":"2019-10","g":"Rural","v":146.4},{"t":"2020-01","g":"Rural","v":147.0},{"t":"2020-04","g":"Rural","v":145.6},{"t":"2020-07","g":"Rural","v":147.5},{"t":"2020-10","g":"Rural","v":148.2},{"t":"2021-01","g":"Rural","v":148.9},{"t":"2021-04","g":"Rural","v":151.6},{"t":"2021-07","g":"Rural","v":155.8},{"t":"2021-10","g":"Rural","v":158.4},{"t":"2022-01","g":"Rural","v":161.0},{"t":"2022-04","g":"Rural","v":167.0},{"t":"2022-06","g":"Rural","v":171.4},{"t":"2022-07","g":"Rural","v":170.3},{"t":"2022-10","g":"Rural","v":170.4},{"t":"2022-12","g":"Rural","v":169.3},{"t":"2023-01","g":"Rural","v":170.5},{"t":"2023-04","g":"Rural","v":172.8},{"t":"2023-07","g":"Rural","v":174.1},{"t":"2023-10","g":"Rural","v":175.0},{"t":"2023-12","g":"Rural","v":174.4},
{"t":"2002-01","g":"Urban","v":100.0},{"t":"2002-04","g":"Urban","v":101.3},{"t":"2002-07","g":"Urban","v":101.8},{"t":"2002-10","g":"Urban","v":102.3},{"t":"2003-01","g":"Urban","v":102.3},{"t":"2003-04","g":"Urban","v":103.9},{"t":"2003-07","g":"Urban","v":104.0},{"t":"2003-10","g":"Urban","v":104.5},{"t":"2004-01","g":"Urban","v":104.2},{"t":"2004-04","g":"Urban","v":106.2},{"t":"2004-07","g":"Urban","v":107.2},{"t":"2004-10","g":"Urban","v":107.3},{"t":"2005-01","g":"Urban","v":107.8},{"t":"2005-04","g":"Urban","v":109.8},{"t":"2005-07","g":"Urban","v":110.2},{"t":"2005-09","g":"Urban","v":112.5},{"t":"2005-10","g":"Urban","v":111.6},{"t":"2006-01","g":"Urban","v":112.2},{"t":"2006-04","g":"Urban","v":114.5},{"t":"2006-07","g":"Urban","v":115.4},{"t":"2006-10","g":"Urban","v":114.0},{"t":"2007-01","g":"Urban","v":114.7},{"t":"2007-04","g":"Urban","v":117.4},{"t":"2007-07","g":"Urban","v":117.8},{"t":"2007-10","g":"Urban","v":118.8},{"t":"2008-01","g":"Urban","v":119.7},{"t":"2008-04","g":"Urban","v":122.0},{"t":"2008-07","g":"Urban","v":124.5},{"t":"2008-10","g":"Urban","v":122.0},{"t":"2008-12","g":"Urban","v":119.0},{"t":"2009-01","g":"Urban","v":119.5},{"t":"2009-04","g":"Urban","v":121.7},{"t":"2009-07","g":"Urban","v":122.5},{"t":"2009-10","g":"Urban","v":122.8},{"t":"2010-01","g":"Urban","v":123.0},{"t":"2010-04","g":"Urban","v":123.1},{"t":"2010-07","g":"Urban","v":123.3},{"t":"2010-10","g":"Urban","v":123.6},{"t":"2011-01","g":"Urban","v":124.0},{"t":"2011-04","g":"Urban","v":125.8},{"t":"2011-07","g":"Urban","v":127.2},{"t":"2011-10","g":"Urban","v":127.5},{"t":"2012-01","g":"Urban","v":127.6},{"t":"2012-04","g":"Urban","v":129.5},{"t":"2012-07","g":"Urban","v":130.1},{"t":"2012-10","g":"Urban","v":129.8},{"t":"2013-01","g":"Urban","v":130.5},{"t":"2013-04","g":"Urban","v":131.3},{"t":"2013-07","g":"Urban","v":131.7},{"t":"2013-10","g":"Urban","v":131.8},{"t":"2014-01","g":"Urban","v":132.6},{"t":"2014-04","g":"Urban","v":134.3},{"t":"2014-07","g":"Urban","v":134.6},{"t":"2014-10","g":"Urban","v":134.3},{"t":"2015-01","g":"Urban","v":133.1},{"t":"2015-04","g":"Urban","v":135.3},{"t":"2015-07","g":"Urban","v":135.5},{"t":"2015-10","g":"Urban","v":135.3},{"t":"2016-01","g":"Urban","v":135.0},{"t":"2016-04","g":"Urban","v":136.8},{"t":"2016-07","g":"Urban","v":137.5},{"t":"2016-10","g":"Urban","v":137.5},{"t":"2017-01","g":"Urban","v":138.5},{"t":"2017-04","g":"Urban","v":139.2},{"t":"2017-07","g":"Urban","v":139.8},{"t":"2017-10","g":"Urban","v":140.3},{"t":"2018-01","g":"Urban","v":140.8},{"t":"2018-04","g":"Urban","v":142.8},{"t":"2018-07","g":"Urban","v":143.7},{"t":"2018-10","g":"Urban","v":143.9},{"t":"2019-01","g":"Urban","v":144.4},{"t":"2019-04","g":"Urban","v":146.6},{"t":"2019-07","g":"Urban","v":146.9},{"t":"2019-10","g":"Urban","v":147.2},{"t":"2020-01","g":"Urban","v":147.8},{"t":"2020-04","g":"Urban","v":147.5},{"t":"2020-07","g":"Urban","v":148.5},{"t":"2020-10","g":"Urban","v":148.8},{"t":"2021-01","g":"Urban","v":149.2},{"t":"2021-04","g":"Urban","v":151.0},{"t":"2021-07","g":"Urban","v":154.8},{"t":"2021-10","g":"Urban","v":157.5},{"t":"2022-01","g":"Urban","v":159.5},{"t":"2022-04","g":"Urban","v":163.5},{"t":"2022-06","g":"Urban","v":168.3},{"t":"2022-07","g":"Urban","v":168.5},{"t":"2022-10","g":"Urban","v":169.0},{"t":"2022-12","g":"Urban","v":169.5},{"t":"2023-01","g":"Urban","v":170.0},{"t":"2023-04","g":"Urban","v":172.5},{"t":"2023-07","g":"Urban","v":174.0},{"t":"2023-10","g":"Urban","v":174.9},{"t":"2023-12","g":"Urban","v":174.6}
]
},
"resolve": {"scale": {"x": "independent", "y": "independent", "color": "independent", "strokeDash": "independent"}, "legend": {"color": "independent", "strokeDash": "independent"}},
"vconcat": [
{
  "title": {"text": "A. Age", "offset": 10.1},
  "width": 918, "height": 363,
  "data": {"name": "age"},
  "mark": {"type": "line", "strokeWidth": 1.42},
  "encoding": {
    "x": {"field": "t", "type": "temporal", "title": "Date",
      "scale": {"domain": [{"year": 2000, "month": 12, "date": 5}, {"year": 2024, "month": 12, "date": 28}], "nice": false},
      "axis": {"tickCount": {"interval": "year", "step": 1}, "format": "%Y", "labelExpr": "year(datum.value) % 2 === 0 ? timeFormat(datum.value, '%Y') : ''", "labelOverlap": false, "labelFlush": false, "labelPadding": 4, "titlePadding": 3, "gridWidth": {"condition": {"test": "year(datum.value) % 2 === 0", "value": 1.07}, "value": 0.53}}},
    "y": {"field": "v", "type": "quantitative", "title": "Cumulative Price Index",
      "scale": {"domain": [95.87, 186.73], "nice": false, "zero": false},
      "axis": {"values": [100, 110, 120, 130, 140, 150, 160, 170, 180], "labelExpr": "datum.value % 20 === 0 ? datum.label : ''", "labelPadding": 7, "titlePadding": 5, "gridWidth": {"condition": {"test": "datum.value % 20 === 0", "value": 1.07}, "value": 0.53}}},
    "color": {"field": "g", "type": "nominal", "title": "Age",
      "scale": {"domain": ["25 to 34", "45 to 54", "65 to 74", "35 to 44", "55 to 64", "75 and over"], "range": ["#F8766D", "#00BA38", "#619CFF", "#B79F00", "#00BFC4", "#F564E3"]},
      "legend": {"orient": "none", "legendX": 308.5, "legendY": 419, "padding": 3, "columns": 3, "direction": "horizontal"}},
    "strokeDash": {"field": "g", "type": "nominal", "title": "Age",
      "scale": {"domain": ["25 to 34", "45 to 54", "65 to 74", "35 to 44", "55 to 64", "75 and over"], "range": [[1, 0], [5.7, 2.8], [1.4, 4.3], [2.8, 2.8], [5.7, 5.7], [1.4, 4.3, 5.7, 4.3]]},
      "legend": {"orient": "none", "legendX": 308.5, "legendY": 419, "padding": 3, "columns": 3, "direction": "horizontal"}}
  }
},
{
  "title": {"text": "B. Race", "offset": 4.8},
  "width": 918, "height": 385,
  "data": {"name": "race"},
  "mark": {"type": "line", "strokeWidth": 1.42},
  "encoding": {
    "x": {"field": "t", "type": "temporal", "title": "Date",
      "scale": {"domain": [{"year": 2000, "month": 12, "date": 5}, {"year": 2024, "month": 12, "date": 28}], "nice": false},
      "axis": {"tickCount": {"interval": "year", "step": 1}, "format": "%Y", "labelExpr": "year(datum.value) % 2 === 0 ? timeFormat(datum.value, '%Y') : ''", "labelOverlap": false, "labelFlush": false, "labelPadding": 4, "titlePadding": 3, "gridWidth": {"condition": {"test": "year(datum.value) % 2 === 0", "value": 1.07}, "value": 0.53}}},
    "y": {"field": "v", "type": "quantitative", "title": "Cumulative Price Index",
      "scale": {"domain": [96.2, 179.6], "nice": false, "zero": false},
      "axis": {"values": [100, 110, 120, 130, 140, 150, 160, 170], "labelExpr": "datum.value % 20 === 0 ? datum.label : ''", "labelPadding": 7, "titlePadding": 5, "gridWidth": {"condition": {"test": "datum.value % 20 === 0", "value": 1.07}, "value": 0.53}}},
    "color": {"field": "g", "type": "nominal", "title": "Race",
      "scale": {"domain": ["Asian or Pacific Islander", "Black", "White"], "range": ["#F8766D", "#00BA38", "#619CFF"]},
      "legend": {"orient": "none", "legendX": 288, "legendY": 445, "direction": "horizontal"}},
    "strokeDash": {"field": "g", "type": "nominal", "title": "Race",
      "scale": {"domain": ["Asian or Pacific Islander", "Black", "White"], "range": [[1, 0], [2.8, 2.8], [5.7, 2.8]]},
      "legend": {"orient": "none", "legendX": 288, "legendY": 445, "direction": "horizontal"}}
  }
},
{
  "title": {"text": "C. Urban vs. Rural", "offset": 6.6},
  "width": 918, "height": 384,
  "data": {"name": "ur"},
  "mark": {"type": "line", "strokeWidth": 1.42},
  "encoding": {
    "x": {"field": "t", "type": "temporal", "title": "Date",
      "scale": {"domain": [{"year": 2000, "month": 12, "date": 5}, {"year": 2024, "month": 12, "date": 28}], "nice": false},
      "axis": {"tickCount": {"interval": "year", "step": 1}, "format": "%Y", "labelExpr": "year(datum.value) % 2 === 0 ? timeFormat(datum.value, '%Y') : ''", "labelOverlap": false, "labelFlush": false, "labelPadding": 4, "titlePadding": 3, "gridWidth": {"condition": {"test": "year(datum.value) % 2 === 0", "value": 1.07}, "value": 0.53}}},
    "y": {"field": "v", "type": "quantitative", "title": "Cumulative Price Index",
      "scale": {"domain": [96.24, 178.86], "nice": false, "zero": false},
      "axis": {"values": [100, 110, 120, 130, 140, 150, 160, 170], "labelExpr": "datum.value % 20 === 0 ? datum.label : ''", "labelPadding": 7, "titlePadding": 5, "gridWidth": {"condition": {"test": "datum.value % 20 === 0", "value": 1.07}, "value": 0.53}}},
    "color": {"field": "g", "type": "nominal", "title": "Urban / Rural",
      "scale": {"domain": ["Rural", "Urban"], "range": ["#F8766D", "#00BFC4"]},
      "legend": {"orient": "none", "legendX": 345, "legendY": 444, "direction": "horizontal"}},
    "strokeDash": {"field": "g", "type": "nominal", "title": "Urban / Rural",
      "scale": {"domain": ["Rural", "Urban"], "range": [[1, 0], [2.8, 2.8]]},
      "legend": {"orient": "none", "legendX": 345, "legendY": 444, "direction": "horizontal"}}
  }
}
]
}
